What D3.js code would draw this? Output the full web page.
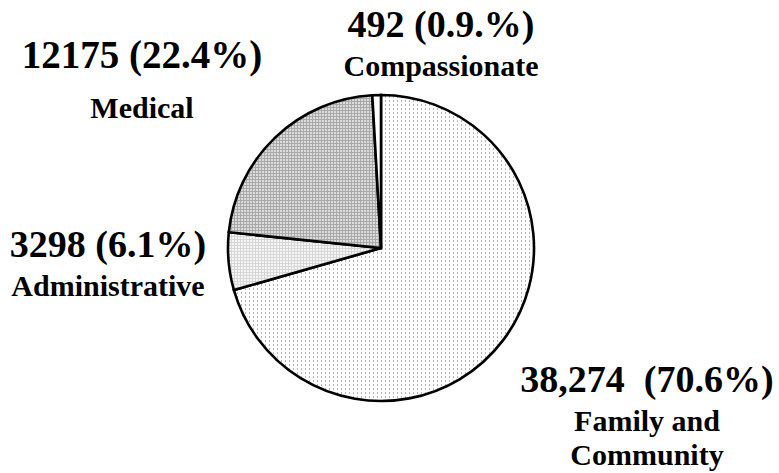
<!DOCTYPE html>
<html>
<head>
<meta charset="utf-8">
<script src="https://cdn.jsdelivr.net/npm/d3@7"></script>
<style>
  body { margin: 0; background: #fff; }
  svg text { font-family: "Liberation Serif", "Times New Roman", Times, "DejaVu Serif", serif; font-weight: 700; fill: #000; white-space: pre; }
</style>
</head>
<body>
<div id="viz"></div>
<script>
// data
var categories = ["Family and Community", "Administrative", "Medical", "Compassionate"];
var counts = [38274, 3298, 12175, 492];
var valueLabels = ["38,274  (70.6%)", "3298 (6.1%)", "12175 (22.4%)", "492 (0.9.%)"];
var nameLines = [["Family and", "Community"], ["Administrative"], ["Medical"], ["Compassionate"]];

var width = 779, height = 473,
    cx = 381, cy = 248, radius = 153;

var svg = d3.select("#viz").append("svg")
  .attr("width", width)
  .attr("height", height);

// dotted fills, like the old print patterns
var defs = svg.append("defs");

var p1 = defs.append("pattern").attr("id", "fam")
  .attr("width", 4).attr("height", 4).attr("patternUnits", "userSpaceOnUse");
p1.append("rect").attr("width", 4).attr("height", 4).attr("fill", "#fff");
p1.append("rect").attr("x", 0).attr("y", 0).attr("width", 1).attr("height", 2).attr("fill", "#b4b4b4");

var p2 = defs.append("pattern").attr("id", "adm")
  .attr("width", 3).attr("height", 3).attr("patternUnits", "userSpaceOnUse");
p2.append("rect").attr("width", 3).attr("height", 3).attr("fill", "#f6f6f6");
p2.append("rect").attr("width", 3).attr("height", 1).attr("fill", "#d6d6d6");
p2.append("rect").attr("width", 1).attr("height", 3).attr("fill", "#d6d6d6");

var p3 = defs.append("pattern").attr("id", "med")
  .attr("width", 3).attr("height", 3).attr("patternUnits", "userSpaceOnUse");
p3.append("rect").attr("width", 3).attr("height", 3).attr("fill", "#dcdcdc");
p3.append("rect").attr("width", 3).attr("height", 1).attr("fill", "#a8a8a8");
p3.append("rect").attr("width", 1).attr("height", 3).attr("fill", "#a8a8a8");

var fills = d3.scaleOrdinal()
  .domain(categories)
  .range(["url(#fam)", "url(#adm)", "url(#med)", "#ffffff"]);

var pie = d3.pie().sort(null).value(function(d) { return d; });
var arc = d3.arc().innerRadius(0).outerRadius(radius);

var arcs = pie(counts);

var g = svg.append("g").attr("transform", "translate(" + cx + "," + cy + ")");

g.selectAll("path.slice")
  .data(arcs)
  .join("path")
  .attr("class", "slice")
  .attr("d", arc)
  .attr("fill", function(d, i) { return fills(categories[i]); })
  .attr("stroke", "#000")
  .attr("stroke-width", 2.6)
  .attr("stroke-linejoin", "miter");

// label spots (centre x, baseline y of the value line)
var labelPos = [[647, 392], [108, 257], [142, 68], [441, 37]];
var nameGap = [39, 39, 50, 39];

var labels = svg.selectAll("g.lab")
  .data(categories)
  .join("g")
  .attr("class", "lab");

labels.append("text")
  .attr("x", function(d, i) { return labelPos[i][0]; })
  .attr("y", function(d, i) { return labelPos[i][1]; })
  .attr("text-anchor", "middle")
  .style("font-size", function(d, i) { return i == 2 ? "39px" : "38px"; })
  .text(function(d, i) { return valueLabels[i]; });

labels.each(function(d, i) {
  var sel = d3.select(this);
  nameLines[i].forEach(function(line, k) {
    sel.append("text")
      .attr("x", labelPos[i][0])
      .attr("y", labelPos[i][1] + nameGap[i] + k * 34)
      .attr("text-anchor", "middle")
      .style("font-size", "30px")
      .text(line);
  });
});
</script>
</body>
</html>
